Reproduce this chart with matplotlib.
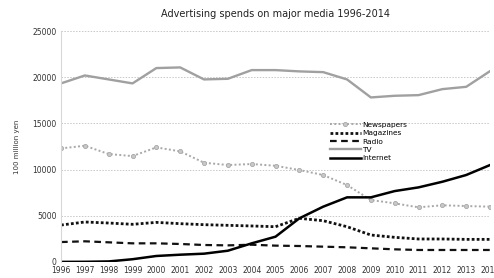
import numpy as np
import matplotlib
matplotlib.use("Agg")
import matplotlib.pyplot as plt

# data (100 million yen)
years = list(range(1996, 2015))
tv = [19340, 20200, 19770, 19340, 21000, 21070, 19770, 19840, 20780, 20780,
      20640, 20560, 19770, 17820, 18000, 18070, 18720, 18970, 20670]
newspapers = [12300, 12590, 11690, 11470, 12410, 11980, 10750, 10500, 10610, 10420,
              9960, 9420, 8330, 6710, 6350, 5920, 6140, 6060, 5990]
magazines = [4000, 4330, 4220, 4080, 4290, 4150, 4040, 3970, 3900, 3820,
             4730, 4470, 3820, 2920, 2670, 2490, 2490, 2450, 2450]
radio = [2160, 2240, 2130, 2020, 2020, 1950, 1840, 1800, 1870, 1770,
         1730, 1660, 1590, 1480, 1370, 1300, 1300, 1300, 1300]
internet = [10, 20, 60, 300, 650, 790, 900, 1220, 2020, 2740,
            4730, 5990, 7000, 7000, 7680, 8080, 8690, 9420, 10500]

fig = plt.figure(figsize=(4.94, 2.78), dpi=100)
ax = fig.add_axes([0.1235, 0.0576, 0.8685, 0.8304])

ax.plot(years, newspapers, color="#a8a8a8", lw=1.4, ls=(0, (1, 1.2)),
        marker="o", ms=3, mfc="#c8c8c8", mec="#a8a8a8", mew=0.6, label="Newspapers")
ax.plot(years, magazines, color="#111111", lw=2.0, ls=(0, (1, 0.8)), label="Magazines")
ax.plot(years, radio, color="#111111", lw=1.6, ls=(0, (3, 2)), label="Radio")
ax.plot(years, tv, color="#a0a0a0", lw=1.7, label="TV")
ax.plot(years, internet, color="#000000", lw=1.8, label="Internet")

ax.set_xlim(1996, 2014)
ax.set_ylim(0, 25000)
ax.set_xticks(years)
ax.set_xticklabels([str(y) for y in years])
ax.set_yticks([0, 5000, 10000, 15000, 20000, 25000])
ax.tick_params(length=0, labelsize=5.5, colors="#333333", pad=3)
ax.grid(axis="y", color="#c8c8c8", ls=(0, (1.5, 1.5)), lw=0.7)
for s in ["top", "right", "bottom"]:
    ax.spines[s].set_visible(False)
ax.spines["left"].set_color("#d8d8d8")
ax.spines["left"].set_linewidth(0.8)

ax.set_ylabel("100 million yen", fontsize=5, color="#333333", labelpad=9)
ax.set_title("Advertising spends on major media 1996-2014", fontsize=7, pad=10, color="#222222")

leg = ax.legend(loc="upper left", bbox_to_anchor=(0.62, 0.62), frameon=False,
                fontsize=5.3, handlelength=4.2, handletextpad=0.2, labelspacing=0.3,
                borderaxespad=0)

fig.savefig("out.png", dpi=100)
